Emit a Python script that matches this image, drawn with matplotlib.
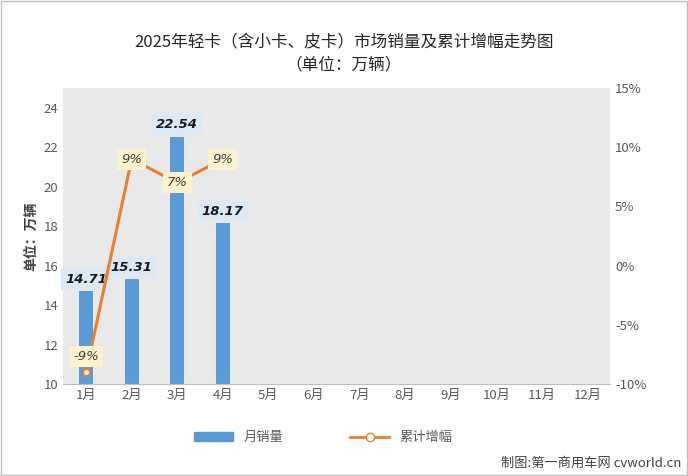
import matplotlib
matplotlib.use("Agg")
import matplotlib.pyplot as plt
from matplotlib.lines import Line2D
from matplotlib.patches import Patch

plt.rcParams['font.family'] = ['Noto Sans CJK SC', 'DejaVu Sans']

months = ["1月","2月","3月","4月","5月","6月","7月","8月","9月","10月","11月","12月"]
sales = [14.71, 15.31, 22.54, 18.17]
growth = [-9, 9, 7, 9]
growth_labels = ["-9%", "9%", "7%", "9%"]

fig = plt.figure(figsize=(6.88, 4.76), dpi=100)
fig.patch.set_facecolor('white')
fig.add_artist(plt.Rectangle((0.002, 0.002), 0.996, 0.996, transform=fig.transFigure,
                             fill=False, edgecolor='#bfbfbf', lw=1))
ax = fig.add_axes([0.092, 0.193, 0.795, 0.622])
ax.set_facecolor('#e9e9e9')
x = list(range(len(months)))
blue = '#5b9bd5'
orange = '#ed7d31'
ax.bar(x[:len(sales)], sales, width=0.3, color=blue, zorder=2)
ax.set_ylim(10, 25)
ax.set_yticks(range(10, 25, 2))
ax.set_xlim(-0.5, 11.5)
ax.set_xticks(x)
ax.set_xticklabels(months)
ax.tick_params(colors='#595959', labelsize=9.5, length=0)
for s in ['top', 'right', 'left']:
    ax.spines[s].set_visible(False)
ax.spines['bottom'].set_color('#bfbfbf')
ax.set_ylabel("单位：万辆", fontsize=10, color='#404040', fontweight='bold')
for i, v in enumerate(sales):
    ax.text(i, v + 0.6, f"{v:.2f}", ha='center', va='center', fontsize=9.5,
            fontweight='bold', style='italic', color='#1a1a1a', zorder=5,
            family='DejaVu Sans',
            bbox=dict(boxstyle='square,pad=0.3', fc='#dde8f5', ec='none'))

ax2 = ax.twinx()
ax2.set_ylim(-10, 15)
ax2.set_yticks(range(-10, 16, 5))
ax2.set_yticklabels([f"{v}%" for v in range(-10, 16, 5)])
ax2.tick_params(colors='#595959', labelsize=9.5, length=0)
for s in ax2.spines.values():
    s.set_visible(False)
ax2.plot(x[:len(growth)], growth, color=orange, lw=2.2, zorder=3)
ax2.plot(x[0], growth[0], 'o', mfc='white', mec=orange, ms=5, mew=1.5, zorder=4)
for i, (v, t) in enumerate(zip(growth, growth_labels)):
    ax2.text(i, v + (1.3 if i == 0 else 0), t, ha='center', va='center', fontsize=9.5,
             style='italic', color='#404040', zorder=5, family='DejaVu Sans',
             bbox=dict(boxstyle='square,pad=0.3', fc='#fdf2cc', ec='none'))

fig.text(0.5, 0.9, "2025年轻卡（含小卡、皮卡）市场销量及累计增幅走势图", ha='center',
         fontsize=12, color='#262626')
fig.text(0.5, 0.855, "（单位：万辆）", ha='center', fontsize=12, color='#262626')

handles = [Patch(color=blue), Line2D([0], [0], color=orange, lw=2, marker='o', mfc='white', mec=orange)]
fig.legend(handles, ["月销量", "累计增幅"], loc='center', bbox_to_anchor=(0.47, 0.08), ncol=2,
           frameon=False, fontsize=9.5, handlelength=3, columnspacing=5, labelcolor='#595959')
fig.text(0.99, 0.02, "制图:第一商用车网 cvworld.cn", ha='right', fontsize=9.5, color='#404040')
fig.savefig("out.png", dpi=100)
